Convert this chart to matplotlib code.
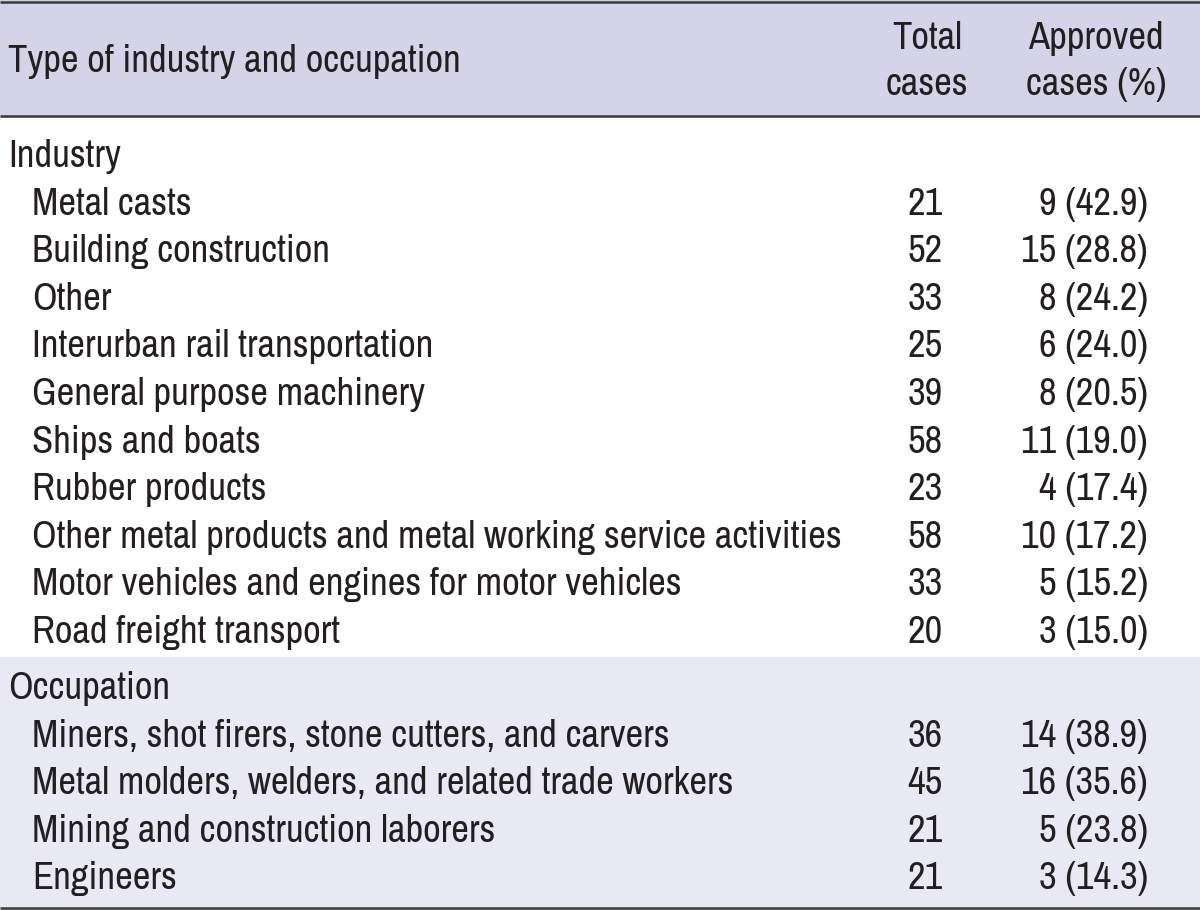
import matplotlib
matplotlib.use("Agg")
import matplotlib.pyplot as plt
from matplotlib.patches import Rectangle

plt.rcParams['font.family'] = ['Archivo Narrow', 'Roboto Condensed', 'DejaVu Sans']

header_col1 = "Type of industry and occupation"
header_col2 = ["Total", "cases"]
header_col3 = ["Approved", "cases (%)"]

industry_names = ["Metal casts", "Building construction", "Other",
                  "Interurban rail transportation", "General purpose machinery",
                  "Ships and boats", "Rubber products",
                  "Other metal products and metal working service activities",
                  "Motor vehicles and engines for motor vehicles",
                  "Road freight transport"]
industry_total = [21, 52, 33, 25, 39, 58, 23, 58, 33, 20]
industry_approved = [9, 15, 8, 6, 8, 11, 4, 10, 5, 3]
industry_pct = [42.9, 28.8, 24.2, 24.0, 20.5, 19.0, 17.4, 17.2, 15.2, 15.0]

occupation_names = ["Miners, shot firers, stone cutters, and carvers",
                    "Metal molders, welders, and related trade workers",
                    "Mining and construction laborers", "Engineers"]
occupation_total = [36, 45, 21, 21]
occupation_approved = [14, 16, 5, 3]
occupation_pct = [38.9, 35.6, 23.8, 14.3]

W, H = 1200, 910
fig = plt.figure(figsize=(12, 9.1), dpi=100)
ax = fig.add_axes([0, 0, 1, 1])
ax.set_xlim(0, W)
ax.set_ylim(H, 0)
ax.axis('off')

fs = 27.8
txt = '#231f20'
header_bg = '#d4d3e8'
band_bg = '#e9e9f4'
line_c = '#3a3a3a'

# backgrounds
ax.add_patch(Rectangle((0, 0), W, 116, color=header_bg, zorder=0))
ax.add_patch(Rectangle((0, 657), W, 252, color=band_bg, zorder=0))
for y in (1.5, 116, 908):
    ax.plot([0, W], [y, y], color=line_c, lw=1.8, zorder=2, solid_capstyle='butt')

# header
ax.text(8, 72, header_col1, fontsize=fs, color=txt, va='baseline', ha='left')
for k, line in enumerate(header_col2):
    ax.text(927, 49 + 46 * k, line, fontsize=fs, color=txt, va='baseline', ha='center')
for k, line in enumerate(header_col3):
    ax.text(1096, 49 + 46 * k, line, fontsize=fs, color=txt, va='baseline', ha='center')

step = 47.6
x_total = 943
x_appr = 1148

y = 167
ax.text(8, y, "Industry", fontsize=fs, color=txt, va='baseline', ha='left')
for i, name in enumerate(industry_names):
    yy = y + step * (i + 1)
    ax.text(32, yy, name, fontsize=fs, color=txt, va='baseline', ha='left')
    ax.text(x_total, yy, str(industry_total[i]), fontsize=fs, color=txt, va='baseline', ha='right')
    ax.text(x_appr, yy, f"{industry_approved[i]} ({industry_pct[i]:.1f})",
            fontsize=fs, color=txt, va='baseline', ha='right')

y = 699
ax.text(8, y, "Occupation", fontsize=fs, color=txt, va='baseline', ha='left')
for i, name in enumerate(occupation_names):
    yy = y + step * (i + 1)
    ax.text(32, yy, name, fontsize=fs, color=txt, va='baseline', ha='left')
    ax.text(x_total, yy, str(occupation_total[i]), fontsize=fs, color=txt, va='baseline', ha='right')
    ax.text(x_appr, yy, f"{occupation_approved[i]} ({occupation_pct[i]:.1f})",
            fontsize=fs, color=txt, va='baseline', ha='right')

fig.savefig("out.png", dpi=100)
